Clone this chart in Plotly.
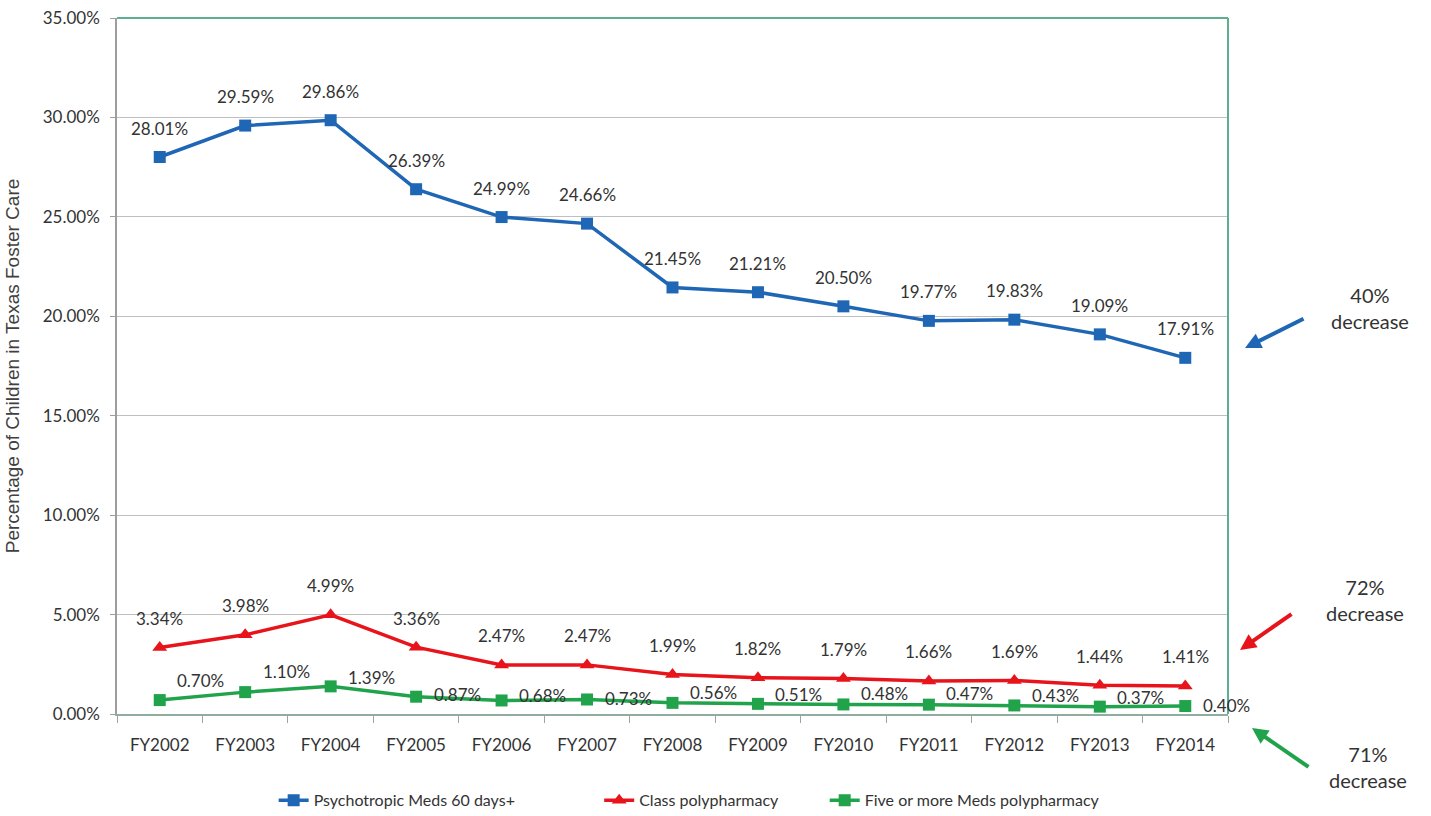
import plotly.graph_objects as go

years = ["FY2002", "FY2003", "FY2004", "FY2005", "FY2006", "FY2007", "FY2008",
         "FY2009", "FY2010", "FY2011", "FY2012", "FY2013", "FY2014"]
psychotropic = [28.01, 29.59, 29.86, 26.39, 24.99, 24.66, 21.45, 21.21, 20.50, 19.77, 19.83, 19.09, 17.91]
class_poly = [3.34, 3.98, 4.99, 3.36, 2.47, 2.47, 1.99, 1.82, 1.79, 1.66, 1.69, 1.44, 1.41]
five_more = [0.70, 1.10, 1.39, 0.87, 0.68, 0.73, 0.56, 0.51, 0.48, 0.47, 0.43, 0.37, 0.40]
series_names = ["Psychotropic Meds 60 days+", "Class polypharmacy", "Five or more Meds polypharmacy"]
y_ticks = [0, 5, 10, 15, 20, 25, 30, 35]

# label placement tweaks (pixels) for the green series labels
green_label_dy = [20, 21, 9, 2, 5, 1, 10, 9, 11, 11, 10, 9, 1]

BLUE = "#1F66B5"
RED = "#E8141B"
GREEN = "#20A34B"
TXT = "#333333"
FONT = "Lato"

fig = go.Figure()
fig.add_trace(go.Scatter(x=years, y=psychotropic, name=series_names[0], mode="lines+markers",
                         line=dict(color=BLUE, width=3.5),
                         marker=dict(symbol="square", size=12, color=BLUE),
                         legend="legend"))
fig.add_trace(go.Scatter(x=years, y=class_poly, name=series_names[1], mode="lines+markers",
                         line=dict(color=RED, width=3.5),
                         marker=dict(symbol="triangle-up", size=13, color=RED),
                         legend="legend2"))
fig.add_trace(go.Scatter(x=years, y=five_more, name=series_names[2], mode="lines+markers",
                         line=dict(color=GREEN, width=3.5),
                         marker=dict(symbol="square", size=12, color=GREEN),
                         legend="legend3"))

annotations = []
for x, v in zip(years, psychotropic):
    annotations.append(dict(x=x, y=v, text=f"{v:.2f}%", showarrow=False, yshift=29,
                            xanchor="center", yanchor="middle",
                            font=dict(family=FONT, size=17, color=TXT)))
for x, v in zip(years, class_poly):
    annotations.append(dict(x=x, y=v, text=f"{v:.2f}%", showarrow=False, yshift=29,
                            xanchor="center", yanchor="middle",
                            font=dict(family=FONT, size=17, color=TXT)))
for x, v, dy in zip(years, five_more, green_label_dy):
    annotations.append(dict(x=x, y=v, text=f"{v:.2f}%", showarrow=False, xshift=41, yshift=dy,
                            xanchor="center", yanchor="middle",
                            font=dict(family=FONT, size=17, color=TXT)))

# arrows and notes to the right of the plot
arrow_specs = [
    (1.0153, 0.5259, 60, -30, BLUE, "40%<br>decrease", 1.1278, 0.583),
    (1.0108, 0.092, 53, -37, RED, "72%<br>decrease", 1.1233, 0.1638),
    (1.0216, -0.0201, 58, 40, GREEN, "71%<br>decrease", 1.126, -0.0761),
]
for hx, hy, ax, ay, col, txt, tx, ty in arrow_specs:
    annotations.append(dict(xref="paper", yref="paper", x=hx, y=hy, ax=ax, ay=ay,
                            showarrow=True, arrowhead=2, arrowsize=0.8, arrowwidth=4,
                            arrowcolor=col, text=""))
    annotations.append(dict(xref="paper", yref="paper", x=tx, y=ty, text=txt, showarrow=False,
                            xanchor="center", yanchor="middle",
                            align="center", font=dict(family=FONT, size=20, color=TXT)))

fig.update_layout(
    width=1431, height=816,
    margin=dict(l=117, r=203, t=18, b=102, autoexpand=False),
    paper_bgcolor="white", plot_bgcolor="white",
    font=dict(family=FONT, size=17, color=TXT),
    annotations=annotations,
    showlegend=True,
    legend=dict(orientation="h", x=0.141, y=-0.124, xanchor="left", yanchor="middle",
                font=dict(family=FONT, size=16, color=TXT), bgcolor="rgba(0,0,0,0)"),
    legend2=dict(orientation="h", x=0.434, y=-0.124, xanchor="left", yanchor="middle",
                 font=dict(family=FONT, size=16, color=TXT), bgcolor="rgba(0,0,0,0)"),
    legend3=dict(orientation="h", x=0.637, y=-0.124, xanchor="left", yanchor="middle",
                 font=dict(family=FONT, size=16, color=TXT), bgcolor="rgba(0,0,0,0)"),
    shapes=[
        dict(type="line", xref="paper", yref="paper", x0=0, x1=1, y0=1, y1=1,
             line=dict(color="#5DB08F", width=2)),
        dict(type="line", xref="paper", yref="paper", x0=1, x1=1, y0=0, y1=1,
             line=dict(color="#5DB08F", width=2)),
    ],
)
fig.update_xaxes(type="category", range=[-0.5, 12.5], showgrid=False, automargin=False,
                 showline=True, linecolor="#8FAE9F", linewidth=1.5,
                 ticks="outside", tickson="boundaries", ticklen=7, tickcolor="#9aa5a0",
                 ticklabelstandoff=15,
                 tickfont=dict(family=FONT, size=17, color=TXT))
fig.update_yaxes(range=[0, 35], tickvals=y_ticks, automargin=False,
                 ticktext=[f"{t:.2f}%" for t in y_ticks],
                 showgrid=True, gridcolor="#BFBFBF", gridwidth=1,
                 showline=True, linecolor="#9E9E9E", linewidth=1.5,
                 ticks="outside", ticklen=5, tickcolor="#9E9E9E",
                 ticklabelstandoff=7,
                 zeroline=False,
                 tickfont=dict(family=FONT, size=17, color=TXT),
                 title=dict(text="Percentage of Children in Texas Foster Care",
                            font=dict(family="Liberation Sans", size=19, color="#404040"),
                            standoff=18))

fig.write_html("out.html", config={"displayModeBar": False},
               post_script="document.body.style.margin='0';")
